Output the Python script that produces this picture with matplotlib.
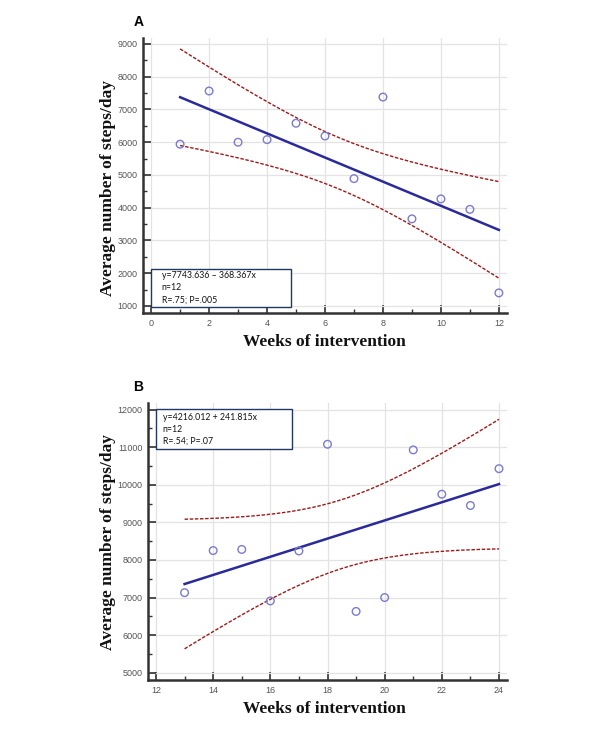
import numpy as np
import matplotlib
matplotlib.use("Agg")
import matplotlib.pyplot as plt
from matplotlib.patches import Rectangle
from matplotlib.ticker import MultipleLocator

# ---- data ----
weeks_a = [1, 2, 3, 4, 5, 6, 7, 8, 9, 10, 11, 12]
steps_a = [5940, 7565, 6000, 6080, 6580, 6190, 4890, 7380, 3660, 4270, 3950, 1400]
coef_a = (7743.636, -368.367)
text_a = ["y=7743.636 \u2013 368.367x", "n=12", "R=.75; P=.005"]

weeks_b = [13, 14, 15, 16, 17, 18, 19, 20, 21, 22, 23, 24]
steps_b = [7130, 8250, 8280, 6910, 8240, 11080, 6630, 7000, 10930, 9750, 9450, 10430]
coef_b = (4216.012, 241.815)
text_b = ["y=4216.012 + 241.815x", "n=12", "R=.54; P=.07"]

T_CRIT = 2.228  # t(0.975, df=10)

W, H = 608, 730
fig = plt.figure(figsize=(W / 100, H / 100), dpi=100)

def px_axes(l, t, r, b):
    return fig.add_axes([l / W, 1 - b / H, (r - l) / W, (b - t) / H])

def draw(ax, x, y, coef, xlim, ylim, xmaj, xmin_, box, lines, tx, ty):
    x = np.asarray(x, float)
    y = np.asarray(y, float)
    a, b = coef
    n = len(x)
    resid = y - (a + b * x)
    s = np.sqrt(np.sum(resid ** 2) / (n - 2))
    xb = x.mean()
    sxx = np.sum((x - xb) ** 2)
    xs = np.linspace(x.min(), x.max(), 200)
    fit = a + b * xs
    hw = T_CRIT * s * np.sqrt(1 / n + (xs - xb) ** 2 / sxx)

    ax.grid(True, color="#e3e3e3", lw=0.9, zorder=0)
    ax.plot(xs, fit, color="#2a2a9a", lw=1.8, zorder=3)
    ax.plot(xs, fit + hw, color="#a01818", lw=1.0, ls=(0, (2.5, 1.2)), zorder=3)
    ax.plot(xs, fit - hw, color="#a01818", lw=1.0, ls=(0, (2.5, 1.2)), zorder=3)
    ax.scatter(x, y, s=30, facecolors="none", edgecolors="#7b7bd0", lw=1.0, zorder=4)

    ax.set_xlim(*xlim)
    ax.set_ylim(*ylim)
    ax.xaxis.set_major_locator(MultipleLocator(xmaj))
    ax.xaxis.set_minor_locator(MultipleLocator(xmin_))
    ax.yaxis.set_major_locator(MultipleLocator(1000))
    ax.yaxis.set_minor_locator(MultipleLocator(500))
    for sp in ("top", "right"):
        ax.spines[sp].set_visible(False)
    for sp in ("left", "bottom"):
        ax.spines[sp].set_linewidth(1.8)
        ax.spines[sp].set_color("#333333")
    ax.tick_params(which="major", direction="in", length=6, width=1.2, color="#333333",
                   labelsize=6.5, labelcolor="#555555", pad=4)
    ax.tick_params(which="minor", direction="in", length=3, width=1.0, color="#333333")
    for lab in ax.get_xticklabels() + ax.get_yticklabels():
        lab.set_family("Liberation Sans")

    bx0, by0, bx1, by1 = box
    ax.add_patch(Rectangle((bx0, by0), bx1 - bx0, by1 - by0, transform=ax.transAxes,
                           facecolor="white", edgecolor="#1f3864", lw=1.0, zorder=6,
                           clip_on=False))
    for txt, yy in zip(lines, ty):
        ax.text(tx, yy, txt, transform=ax.transAxes, fontsize=6.3, family="Lato",
                va="center", ha="left", color="#111111", zorder=7)

axA = px_axes(143, 38, 507, 313)
draw(axA, weeks_a, steps_a, coef_a, (-0.28, 12.28), (786, 9183), 2, 1,
     (0.022, 0.022, 0.407, 0.16), text_a, 0.051, [0.136, 0.091, 0.047])

axB = px_axes(148, 403, 507, 680)
draw(axB, weeks_b, steps_b, coef_b, (11.72, 24.28), (4805, 12178), 2, 1,
     (0.022, 0.834, 0.401, 0.978), text_b, 0.041, [0.949, 0.906, 0.863])

lab_kw = dict(family="Liberation Serif", fontweight="bold", fontsize=12.5, color="#111111")
fig.text(324 / W, 1 - 342 / H, "Weeks of intervention", ha="center", va="center", **lab_kw)
fig.text(324 / W, 1 - 709 / H, "Weeks of intervention", ha="center", va="center", **lab_kw)
fig.text(108 / W, 1 - 188 / H, "Average number of steps/day", rotation=90,
         ha="center", va="center", **lab_kw)
fig.text(108 / W, 1 - 542 / H, "Average number of steps/day", rotation=90,
         ha="center", va="center", **lab_kw)
fig.text(139 / W, 1 - 22 / H, "A", ha="center", va="center", fontsize=10,
         fontweight="bold", family="Liberation Sans")
fig.text(138 / W, 1 - 387 / H, "B", ha="center", va="center", fontsize=10,
         fontweight="bold", family="Liberation Sans")

fig.savefig("out.png", dpi=100, facecolor="white")
